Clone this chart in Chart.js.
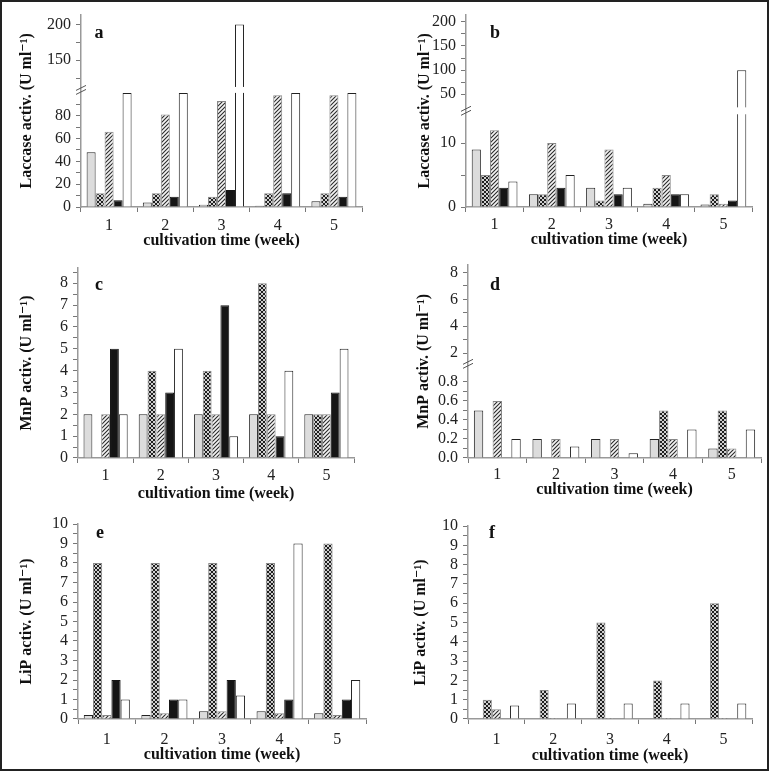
<!DOCTYPE html>
<html>
<head>
<meta charset="utf-8">
<script src="https://cdn.jsdelivr.net/npm/chart.js@4.4.1/dist/chart.umd.min.js"></script>
<style>
html, body { margin: 0; padding: 0; background: #fff; }
#page { position: relative; width: 771px; height: 772px; overflow: hidden; }
#page canvas { position: absolute; }
#frame { position: absolute; left: 0; top: 0; width: 769px; height: 771px; box-sizing: border-box; border: 2px solid #222; pointer-events: none; }
</style>
</head>
<body>
<div id="page"><div id="frame"></div></div>
<script>
const weeks = ['1', '2', '3', '4', '5'];

// a: laccase
const aGrey  = [48, 4, 2, 1, 5];
const aCross = [12, 12, 9, 12, 12];
const aHatch = [66, 81, 93, 98, 98];
const aBlack = [6, 9, 15, 12, 9];
const aWhite = [100, 100, 200, 100, 100];
// b: laccase
const bGrey  = [9, 2, 3, 0.5, 0.4];
const bCross = [5, 2, 1, 3, 2];
const bHatch = [12, 10, 9, 5, 0.5];
const bBlack = [3, 3, 2, 2, 1];
const bWhite = [4, 5, 3, 2, 100];
// c: MnP
const cGrey  = [2, 2, 2, 2, 2];
const cCross = [0, 4, 4, 8, 2];
const cHatch = [2, 2, 2, 2, 2];
const cBlack = [5, 3, 7, 1, 3];
const cWhite = [2, 5, 1, 4, 5];
// d: MnP
const dGrey  = [0.5, 0.2, 0.2, 0.2, 0.1];
const dCross = [0, 0, 0, 0.5, 0.5];
const dHatch = [0.6, 0.2, 0.2, 0.2, 0.1];
const dBlack = [0, 0, 0, 0, 0];
const dWhite = [0.2, 0.12, 0.05, 0.3, 0.3];
// e: LiP
const eGrey  = [0.2, 0.2, 0.4, 0.4, 0.3];
const eCross = [8, 8, 8, 8, 9];
const eHatch = [0.2, 0.3, 0.4, 0.3, 0.2];
const eBlack = [2, 1, 2, 1, 1];
const eWhite = [1, 1, 1.2, 9, 2];
// f: LiP
const fGrey  = [0, 0, 0, 0, 0];
const fCross = [1, 1.5, 5, 2, 6];
const fHatch = [0.5, 0.05, 0.05, 0.05, 0.05];
const fBlack = [0, 0, 0, 0, 0];
const fWhite = [0.7, 0.8, 0.8, 0.8, 0.8];

// y tick labels (major) and unlabeled minor ticks
const aTicks = [0, 20, 40, 60, 80, 150, 200];
const aMinor = [10, 30, 50, 70, 90, 125, 175];
const bTicks = [0, 10, 50, 100, 150, 200];
const bMinor = [5, 75, 125, 175];
const cTicks = [0, 1, 2, 3, 4, 5, 6, 7, 8];
const cMinor = [0.5, 1.5, 2.5, 3.5, 4.5, 5.5, 6.5, 7.5, 8.5];
const dTicks = [0, 0.2, 0.4, 0.6, 0.8, 2, 4, 6, 8];
const dMinor = [0.1, 0.3, 0.5, 0.7, 3, 5, 7];
const eTicks = [0, 1, 2, 3, 4, 5, 6, 7, 8, 9, 10];
const eMinor = [0.5, 1.5, 2.5, 3.5, 4.5, 5.5, 6.5, 7.5, 8.5, 9.5];

const SERIF = "'Liberation Serif', 'Times New Roman', 'DejaVu Serif', serif";
Chart.defaults.font.family = SERIF;
Chart.defaults.color = '#222';

// y scale with a break: two linear pieces on one axis
class BrokenScale extends Chart.LinearScale {
  _dec(v) {
    const [lo, hi] = this.options.segments;
    if (v <= lo.max) return lo.d0 + (v - lo.min) / (lo.max - lo.min) * (lo.d1 - lo.d0);
    if (v >= hi.min) return hi.d0 + (v - hi.min) / (hi.max - hi.min) * (hi.d1 - hi.d0);
    return lo.d1 + (v - lo.max) / (hi.min - lo.max) * (hi.d0 - lo.d1);
  }
  getPixelForValue(v) {
    if (v === null || v === undefined) return NaN;
    return this.getPixelForDecimal(this._dec(v));
  }
  getValueForPixel(p) {
    const d = this.getDecimalForPixel(p);
    const [lo, hi] = this.options.segments;
    if (d <= lo.d1) return lo.min + (d - lo.d0) / (lo.d1 - lo.d0) * (lo.max - lo.min);
    return hi.min + (d - hi.d0) / (hi.d1 - hi.d0) * (hi.max - hi.min);
  }
}
BrokenScale.id = 'broken';
BrokenScale.defaults = Chart.LinearScale.defaults;
Chart.register(BrokenScale);

function crossPattern() {
  const c = document.createElement('canvas');
  c.width = 4; c.height = 4;
  const g = c.getContext('2d');
  g.fillStyle = '#cfcfcf';
  g.fillRect(0, 0, 4, 4);
  g.fillStyle = '#1e1e1e';
  for (let i = 0; i < 4; i++) {
    g.fillRect(i, i, 1, 1);
    g.fillRect(3 - i, i, 1, 1);
  }
  return g.createPattern(c, 'repeat');
}
function hatchPattern() {
  const c = document.createElement('canvas');
  c.width = 4; c.height = 4;
  const g = c.getContext('2d');
  g.fillStyle = '#f4f4f4';
  g.fillRect(0, 0, 4, 4);
  g.strokeStyle = '#2a2a2a';
  g.lineWidth = 1.1;
  g.beginPath();
  g.moveTo(-1, 5); g.lineTo(5, -1);
  g.moveTo(-1, 1); g.lineTo(1, -1);
  g.moveTo(3, 5); g.lineTo(5, 3);
  g.stroke();
  return g.createPattern(c, 'repeat');
}
const CROSS = crossPattern();
const HATCH = hatchPattern();

const styles = [
  { backgroundColor: '#dcdcdc', borderColor: '#222' },
  { backgroundColor: CROSS, borderColor: '#888' },
  { backgroundColor: HATCH, borderColor: '#888' },
  { backgroundColor: '#151515', borderColor: '#151515' },
  { backgroundColor: '#fff', borderColor: '#222' }
];

const deco = {
  id: 'deco',
  afterDatasetsDraw(chart, args, o) {
    const s = chart.scales.y;
    if (!s.options.segments || !o.gap) return;
    const [lo, hi] = s.options.segments;
    const y0 = s.getPixelForValue(hi.min), y1 = s.getPixelForValue(lo.max);
    const ctx = chart.ctx;
    ctx.save();
    ctx.fillStyle = '#fff';
    ctx.fillRect(chart.chartArea.left + 1, y0, chart.chartArea.right - chart.chartArea.left, y1 - y0);
    ctx.restore();
  },
  afterDraw(chart, args, o) {
    const ctx = chart.ctx;
    const s = chart.scales.y;
    ctx.save();
    if (s.options.segments) {
      const [lo, hi] = s.options.segments;
      const mid = (s.getPixelForValue(hi.min) + s.getPixelForValue(lo.max)) / 2;
      const x = chart.chartArea.left;
      ctx.strokeStyle = '#555';
      ctx.lineWidth = 1;
      ctx.beginPath();
      for (const dy of [-2, 2]) {
        ctx.moveTo(x - 5, mid + dy + 2.5);
        ctx.lineTo(x + 5, mid + dy - 2.5);
      }
      ctx.stroke();
    }
    ctx.fillStyle = '#111';
    ctx.font = 'bold 18px ' + SERIF;
    ctx.textAlign = 'center';
    ctx.textBaseline = 'middle';
    ctx.fillText(o.letter, o.lx, o.ly);
    ctx.restore();
  }
};

function panel(o) {
  const [bx, by, bw, bh] = o.box;
  const [pl, pt, pr, pb] = o.plot;
  const padBottom = by + bh - o.xTitleY - 9.6;
  const yW = pl - bx;
  const xH = by + bh - padBottom - pb;
  const cv = document.createElement('canvas');
  cv.width = bw; cv.height = bh;
  cv.style.left = bx + 'px';
  cv.style.top = by + 'px';
  document.getElementById('page').insertBefore(cv, document.getElementById('frame'));

  const names = ['grey', 'cross', 'hatch', 'black', 'white'];
  const datasets = o.series.map((d, i) => Object.assign({
    label: names[i],
    data: d,
    borderWidth: 1,
    categoryPercentage: 0.8,
    barPercentage: 1
  }, styles[i]));

  const all = o.ticks.concat(o.minor).sort((p, q) => p - q);
  const yScale = Object.assign({
    type: o.segments ? 'broken' : 'linear',
    afterBuildTicks: s => { s.ticks = all.map(v => ({ value: v })); },
    afterFit: s => { s.width = yW; },
    border: { color: '#999', width: 1.5 },
    grid: { drawOnChartArea: false, tickLength: 5, color: '#777' },
    ticks: {
      autoSkip: false,
      padding: 5,
      color: '#222',
      font: { size: 16 },
      callback: v => o.ticks.includes(v) ? (o.fmt ? o.fmt(v) : String(v)) : ''
    },
    title: {
      display: true,
      text: o.yTitle,
      font: { size: 16, weight: 'bold' },
      color: '#111',
      padding: { top: o.yTitleX - bx - 9.6, bottom: 0 }
    }
  }, o.segments ? { segments: o.segments, min: 0, max: o.segments[1].max } : { min: 0, max: o.max });

  new Chart(cv, {
    type: 'bar',
    data: { labels: weeks, datasets },
    options: {
      responsive: false,
      animation: false,
      events: [],
      layout: { padding: { left: 0, top: pt - by, right: bx + bw - pr, bottom: padBottom } },
      plugins: {
        legend: { display: false },
        tooltip: { enabled: false },
        deco: { letter: o.letter, lx: o.letterAt[0] - bx, ly: o.letterAt[1] - by, gap: o.gap }
      },
      scales: {
        x: {
          afterFit: s => { s.height = xH; },
          border: { color: '#999', width: 1.5 },
          grid: { offset: true, drawOnChartArea: false, tickLength: 5, color: '#777' },
          ticks: { padding: o.xLabelY - 7 - pb - 5, color: '#222', font: { size: 16 } },
          title: {
            display: true,
            text: 'cultivation time (week)',
            font: { size: 16, weight: 'bold' },
            color: '#111',
            padding: { top: 0, bottom: 0 }
          }
        },
        y: yScale
      }
    },
    plugins: [deco]
  });
}

panel({
  box: [0, 0, 385, 255], plot: [81, 13, 362, 207],
  yTitleX: 27, xTitleY: 241, xLabelY: 223, letter: 'a', letterAt: [99, 33],
  yTitle: 'Laccase activ. (U ml\u207B\u00B9)',
  series: [aGrey, aCross, aHatch, aBlack, aWhite],
  ticks: aTicks, minor: aMinor, gap: true,
  segments: [{ min: 0, max: 100, d0: 0, d1: 0.593 }, { min: 112.5, max: 214, d0: 0.624, d1: 1 }]
});
panel({
  box: [385, 0, 386, 255], plot: [466, 14, 752, 207],
  yTitleX: 425, xTitleY: 240, xLabelY: 222, letter: 'b', letterAt: [495, 33],
  yTitle: 'Laccase activ. (U ml\u207B\u00B9)',
  series: [bGrey, bCross, bHatch, bBlack, bWhite],
  ticks: bTicks, minor: bMinor, gap: true,
  segments: [{ min: 0, max: 14.5, d0: 0, d1: 0.482 }, { min: 23, max: 215, d0: 0.518, d1: 1 }]
});
panel({
  box: [0, 250, 385, 262], plot: [78, 268, 354, 458],
  yTitleX: 27, xTitleY: 494, xLabelY: 473, letter: 'c', letterAt: [99, 285],
  yTitle: 'MnP activ. (U ml\u207B\u00B9)',
  series: [cGrey, cCross, cHatch, cBlack, cWhite],
  ticks: cTicks, minor: cMinor, max: 8.7
});
panel({
  box: [385, 250, 386, 262], plot: [468, 259, 761, 458],
  yTitleX: 424, xTitleY: 490, xLabelY: 472, letter: 'd', letterAt: [495, 285],
  yTitle: 'MnP activ. (U ml\u207B\u00B9)',
  series: [dGrey, dCross, dHatch, dBlack, dWhite],
  ticks: dTicks, minor: dMinor, gap: false,
  fmt: v => v < 1 ? v.toFixed(1) : String(v),
  segments: [{ min: 0, max: 0.97, d0: 0, d1: 0.477 }, { min: 1.35, max: 8.58, d0: 0.497, d1: 1 }]
});
panel({
  box: [0, 500, 385, 272], plot: [78, 524, 366, 719],
  yTitleX: 27, xTitleY: 755, xLabelY: 737, letter: 'e', letterAt: [100, 533],
  yTitle: 'LiP activ. (U ml\u207B\u00B9)',
  series: [eGrey, eCross, eHatch, eBlack, eWhite],
  ticks: eTicks, minor: eMinor, max: 10
});
panel({
  box: [385, 500, 386, 272], plot: [468, 526, 752, 719],
  yTitleX: 421, xTitleY: 756, xLabelY: 737, letter: 'f', letterAt: [492, 533],
  yTitle: 'LiP activ. (U ml\u207B\u00B9)',
  series: [fGrey, fCross, fHatch, fBlack, fWhite],
  ticks: eTicks, minor: eMinor, max: 10
});
</script>
</body>
</html>
